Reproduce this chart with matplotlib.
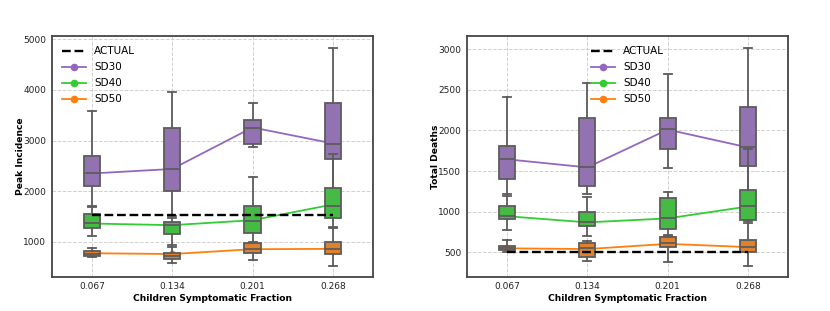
import colorsys
import numpy as np
import matplotlib
matplotlib.use("Agg")
import matplotlib.pyplot as plt
import matplotlib.colors as mcolors

fractions = ["0.067", "0.134", "0.201", "0.268"]
series = ["SD30", "SD40", "SD50"]
line_colors = ["#9467bd", "#32cd32", "#ff7f0e"]

# Peak incidence: box stats per series (whislo, q1, med, q3, whishi) for each fraction
peak_lo = [[1710, 1520, 2865, 1850], [1120, 940, 970, 1290], [700, 590, 640, 530]]
peak_q1 = [[2107, 2008, 2925, 2641], [1283, 1165, 1178, 1468], [730, 660, 783, 770]]
peak_med = [[2351, 2430, 3254, 2924], [1376, 1330, 1415, 1718], [760, 730, 855, 868]]
peak_q3 = [[2694, 3254, 3405, 3751], [1547, 1395, 1712, 2068], [822, 789, 980, 993]]
peak_hi = [[3583, 3952, 3748, 4829], [1690, 1480, 2272, 2727], [888, 900, 990, 1270]]
peak_mean = [[2351, 2440, 3260, 2944], [1362, 1330, 1428, 1738], [775, 760, 855, 862]]
peak_actual = 1527

# Total deaths
death_lo = [[1213, 1213, 1541, 1110], [775, 700, 700, 880], [505, 393, 377, 336]]
death_q1 = [[1402, 1320, 1770, 1566], [910, 828, 787, 898], [529, 447, 561, 500]]
death_med = [[1648, 1545, 2016, 1799], [951, 877, 918, 1074], [549, 549, 611, 570]]
death_q3 = [[1811, 2156, 2156, 2291], [1074, 992, 1164, 1266], [582, 611, 693, 652]]
death_hi = [[2414, 2578, 2689, 3016], [1190, 1180, 1246, 1766], [652, 640, 720, 860]]
death_mean = [[1645, 1545, 2010, 1790], [945, 869, 918, 1065], [550, 541, 605, 565]]
death_actual = 500


def desaturate(color, prop=0.75):
    r, g, b = mcolors.to_rgb(color)
    h, l, s = colorsys.rgb_to_hls(r, g, b)
    return colorsys.hls_to_rgb(h, l, s * prop)


def draw_panel(ax, lo, q1, med, q3, hi, mean, actual, ylabel, ylim, legend_loc):
    pos = np.arange(len(fractions))
    ax.grid(True, color="#d0d0d0", linestyle="--", linewidth=0.7, zorder=0)
    ax.set_axisbelow(True)
    for i, name in enumerate(series):
        ax.plot(pos, mean[i], "-", marker="o", color=line_colors[i], lw=1.3,
                markersize=4.5, label=name, zorder=1.5)
    gray = "#5c5c5c"
    for i, name in enumerate(series):
        stats = [dict(whislo=lo[i][j], q1=q1[i][j], med=med[i][j],
                      q3=q3[i][j], whishi=hi[i][j]) for j in range(len(fractions))]
        ax.bxp(stats, positions=pos, widths=0.2, showfliers=False, patch_artist=True,
               boxprops=dict(facecolor=desaturate(line_colors[i]), edgecolor=gray, linewidth=1.3),
               whiskerprops=dict(color=gray, linewidth=1.3),
               capprops=dict(color=gray, linewidth=1.3),
               medianprops=dict(color=gray, linewidth=1.3),
               zorder=2 + i * 0.1, manage_ticks=False)
    ax.plot(pos, [actual] * len(pos), "k--", lw=1.7, label="ACTUAL", zorder=5)
    ax.set_xticks(pos)
    ax.set_xticklabels(fractions)
    ax.set_xlim(-0.5, len(fractions) - 0.5)
    ax.set_ylim(*ylim)
    ax.tick_params(length=0, labelsize=6.5, pad=4, colors="#222222")
    ax.set_xlabel("Children Symptomatic Fraction", fontsize=6.6, fontweight="bold", labelpad=2)
    ax.set_ylabel(ylabel, fontsize=6.6, fontweight="bold", labelpad=-1)
    for sp in ax.spines.values():
        sp.set_color("#444444")
        sp.set_linewidth(1.3)
    handles, labels = ax.get_legend_handles_labels()
    order = [3, 0, 1, 2]
    ax.legend([handles[k] for k in order], [labels[k] for k in order],
              loc=legend_loc, frameon=False, fontsize=7.5, handlelength=2.3,
              labelspacing=0.57, borderaxespad=0.6)


fig = plt.figure(figsize=(8.3, 3.11), dpi=100)
ax1 = fig.add_axes([0.0623, 0.110, 0.3871, 0.774])
ax2 = fig.add_axes([0.5623, 0.110, 0.3875, 0.774])

draw_panel(ax1, peak_lo, peak_q1, peak_med, peak_q3, peak_hi, peak_mean, peak_actual,
           "Peak Incidence", (310, 5065), "upper left")
ax1.set_yticks([1000, 2000, 3000, 4000, 5000])
draw_panel(ax2, death_lo, death_q1, death_med, death_q3, death_hi, death_mean, death_actual,
           "Total Deaths", (200, 3160), "upper center")
ax2.set_yticks([500, 1000, 1500, 2000, 2500, 3000])

fig.savefig("out.png", dpi=100)
